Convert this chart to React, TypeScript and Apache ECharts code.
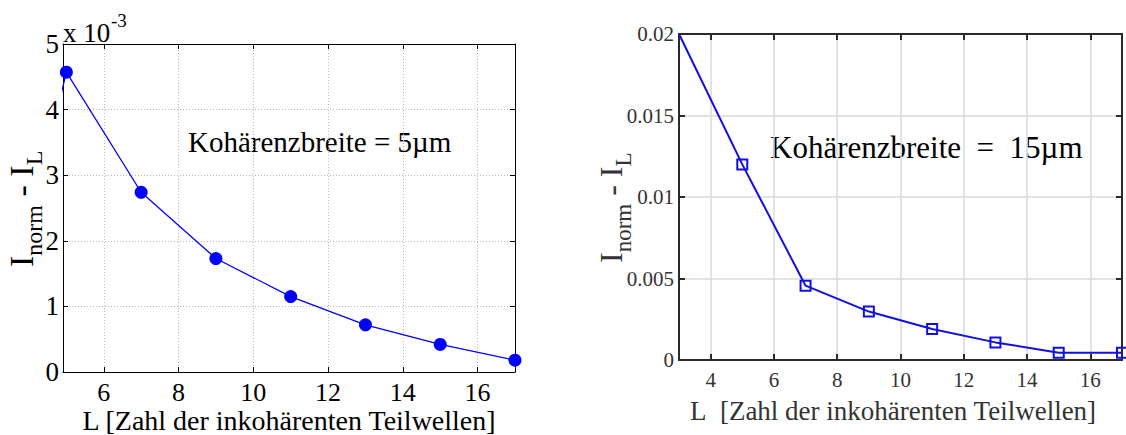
import React, { useEffect, useRef } from "react";
import * as echarts from "echarts";

// ---------------- data ----------------
const LEFT_L = [3, 5, 7, 9, 11, 13, 15, 17];
const LEFT_VALUES_E3 = [-0.2, 4.57, 2.74, 1.73, 1.15, 0.72, 0.42, 0.18]; // × 10^-3
const LEFT_X_TICKS = [6, 8, 10, 12, 14, 16];
const LEFT_X_MIN = 4.91;
const LEFT_X_MAX = 17;

const RIGHT_L = [3, 5, 7, 9, 11, 13, 15, 17];
const RIGHT_VALUES = [0.02, 0.012, 0.00456, 0.00297, 0.0019, 0.00108, 0.00045, 0.00045];
const RIGHT_X_TICKS = [4, 6, 8, 10, 12, 14, 16];

const LEFT_NOTE = "Kohärenzbreite = 5µm";
const RIGHT_NOTE = "Kohärenzbreite\u00a0 =\u00a0 15µm";
const LEFT_XTITLE = "L [Zahl der inkohärenten Teilwellen]";
const RIGHT_XTITLE = "L\u00a0 [Zahl der inkohärenten Teilwellen]";
const YLABEL_PARTS = [
  { t: "I", sub: false },
  { t: "norm", sub: true },
  { t: " - I", sub: false },
  { t: "L", sub: true },
];

const FONT = '"Liberation Serif", "Times New Roman", serif';

function measure(text: string, size: number): number {
  const c = document.createElement("canvas");
  const ctx = c.getContext("2d");
  if (!ctx) return text.length * size * 0.5;
  ctx.font = `${size}px "Liberation Serif"`;
  return ctx.measureText(text).width;
}

function yLabel(x: number, y: number, F: number, f: number, shift: number, color: string) {
  let cursor = 0;
  const children: any[] = [];
  YLABEL_PARTS.forEach((p) => {
    const size = p.sub ? f : F;
    children.push({
      type: "text",
      x: cursor,
      y: p.sub ? shift : 0,
      style: {
        text: p.t,
        font: `${size}px ${FONT}`,
        fill: color,
        verticalAlign: "bottom",
        align: "left",
      },
    });
    cursor += measure(p.t, size);
  });
  return { type: "group", x, y, rotation: Math.PI / 2, children };
}

export default function App() {
  const ref = useRef<HTMLDivElement>(null);
  useEffect(() => {
    if (!ref.current) return;
    const chart = echarts.init(ref.current, undefined, { renderer: "svg" });

    const leftAxisColor = "#000";
    const rightAxisColor = "#2a2a2a";

    const option: any = {
      animation: false,
      backgroundColor: "#fff",
      grid: [
        { left: 63, top: 44, width: 452, height: 328 },
        { left: 679, top: 34, width: 443, height: 326 },
      ],
      xAxis: [
        {
          gridIndex: 0,
          type: "value",
          min: LEFT_X_MIN,
          max: LEFT_X_MAX,
          position: "bottom",
          axisLine: { show: true, onZero: false, lineStyle: { color: leftAxisColor, width: 1 } },
          axisTick: { show: true, inside: true, length: 5, customValues: LEFT_X_TICKS, lineStyle: { color: leftAxisColor } },
          axisLabel: { show: true, customValues: LEFT_X_TICKS, fontSize: 26, fontFamily: FONT, color: "#000", margin: 7 },
          splitLine: { show: true, lineStyle: { color: "#b8b8b8", type: [1, 2], width: 1 } },
        },
        {
          gridIndex: 0,
          type: "value",
          min: LEFT_X_MIN,
          max: LEFT_X_MAX,
          position: "top",
          axisLine: { show: true, onZero: false, lineStyle: { color: leftAxisColor, width: 1 } },
          axisTick: { show: true, inside: true, length: 5, customValues: LEFT_X_TICKS, lineStyle: { color: leftAxisColor } },
          axisLabel: { show: false },
          splitLine: { show: false },
        },
        {
          gridIndex: 1,
          type: "value",
          min: 3,
          max: 17,
          position: "bottom",
          axisLine: { show: true, onZero: false, lineStyle: { color: rightAxisColor, width: 2 } },
          axisTick: { show: true, inside: true, length: 6, customValues: RIGHT_X_TICKS, lineStyle: { color: rightAxisColor, width: 2 } },
          axisLabel: { show: true, customValues: RIGHT_X_TICKS, fontSize: 21, fontFamily: FONT, color: "#333", margin: 9 },
          splitLine: { show: true, lineStyle: { color: "#dadada", width: 1.5 } },
        },
        {
          gridIndex: 1,
          type: "value",
          min: 3,
          max: 17,
          position: "top",
          axisLine: { show: true, onZero: false, lineStyle: { color: rightAxisColor, width: 2 } },
          axisTick: { show: true, inside: true, length: 6, customValues: RIGHT_X_TICKS, lineStyle: { color: rightAxisColor, width: 2 } },
          axisLabel: { show: false },
          splitLine: { show: false },
        },
      ],
      yAxis: [
        {
          gridIndex: 0,
          type: "value",
          min: 0,
          max: 5,
          interval: 1,
          position: "left",
          axisLine: { show: true, onZero: false, lineStyle: { color: leftAxisColor, width: 1 } },
          axisTick: { show: true, inside: true, length: 5, lineStyle: { color: leftAxisColor } },
          axisLabel: { show: true, fontSize: 27, fontFamily: FONT, color: "#000", margin: 4 },
          splitLine: { show: true, lineStyle: { color: "#b8b8b8", type: [1, 2], width: 1 } },
        },
        {
          gridIndex: 0,
          type: "value",
          min: 0,
          max: 5,
          interval: 1,
          position: "right",
          axisLine: { show: true, onZero: false, lineStyle: { color: leftAxisColor, width: 1 } },
          axisTick: { show: true, inside: true, length: 5, lineStyle: { color: leftAxisColor } },
          axisLabel: { show: false },
          splitLine: { show: false },
        },
        {
          gridIndex: 1,
          type: "value",
          min: 0,
          max: 0.02,
          interval: 0.005,
          position: "left",
          axisLine: { show: true, onZero: false, lineStyle: { color: rightAxisColor, width: 2 } },
          axisTick: { show: true, inside: true, length: 6, lineStyle: { color: rightAxisColor, width: 2 } },
          axisLabel: { show: true, fontSize: 21, fontFamily: FONT, color: "#333", margin: 5 },
          splitLine: { show: true, lineStyle: { color: "#dadada", width: 1.5 } },
        },
        {
          gridIndex: 1,
          type: "value",
          min: 0,
          max: 0.02,
          interval: 0.005,
          position: "right",
          axisLine: { show: true, onZero: false, lineStyle: { color: rightAxisColor, width: 2 } },
          axisTick: { show: true, inside: true, length: 6, lineStyle: { color: rightAxisColor, width: 2 } },
          axisLabel: { show: false },
          splitLine: { show: false },
        },
      ],
      series: [
        {
          type: "line",
          xAxisIndex: 0,
          yAxisIndex: 0,
          clip: true,
          data: LEFT_L.map((l, i) => [l, LEFT_VALUES_E3[i]]),
          symbol: "circle",
          symbolSize: 13,
          showAllSymbol: true,
          lineStyle: { color: "#0000ff", width: 1.3 },
          itemStyle: { color: "#0000ff" },
        },
        {
          type: "line",
          xAxisIndex: 2,
          yAxisIndex: 2,
          clip: true,
          data: RIGHT_L.map((l, i) =>
            i === 0 ? { value: [l, RIGHT_VALUES[i]], symbol: "none" } : [l, RIGHT_VALUES[i]]
          ),
          symbol: "rect",
          symbolSize: 10,
          showAllSymbol: true,
          lineStyle: { color: "#1010e0", width: 2 },
          itemStyle: { color: "rgba(255,255,255,0)", borderColor: "#1010e0", borderWidth: 2 },
        },
      ],
      graphic: [
        { type: "text", x: 63, y: 46, style: { text: "x 10", font: `27px ${FONT}`, fill: "#000", verticalAlign: "bottom" } },
        { type: "text", x: 111, y: 30, style: { text: "-3", font: `19px ${FONT}`, fill: "#000", verticalAlign: "bottom" } },
        { type: "text", x: 188, y: 142, style: { text: LEFT_NOTE, font: `29px ${FONT}`, fill: "#000", verticalAlign: "middle" } },
        { type: "text", x: 289, y: 420, style: { text: LEFT_XTITLE, font: `28px ${FONT}`, fill: "#000", align: "center", verticalAlign: "middle" } },
        { type: "text", x: 770, y: 147, style: { text: RIGHT_NOTE, font: `31px ${FONT}`, fill: "#000", verticalAlign: "middle" } },
        { type: "text", x: 893, y: 411, style: { text: RIGHT_XTITLE, font: `27px ${FONT}`, fill: "#333", align: "center", verticalAlign: "middle" } },
        yLabel(38, 267, 34, 24, 8, "#000"),
        yLabel(627, 263, 32, 23, 8, "#333"),
      ],
    };
    chart.setOption(option);
    return () => chart.dispose();
  }, []);
  return (
    <div
      ref={ref}
      style={{ position: "fixed", left: 0, top: 0, width: 1126, height: 435, background: "#fff" }}
    />
  );
}
